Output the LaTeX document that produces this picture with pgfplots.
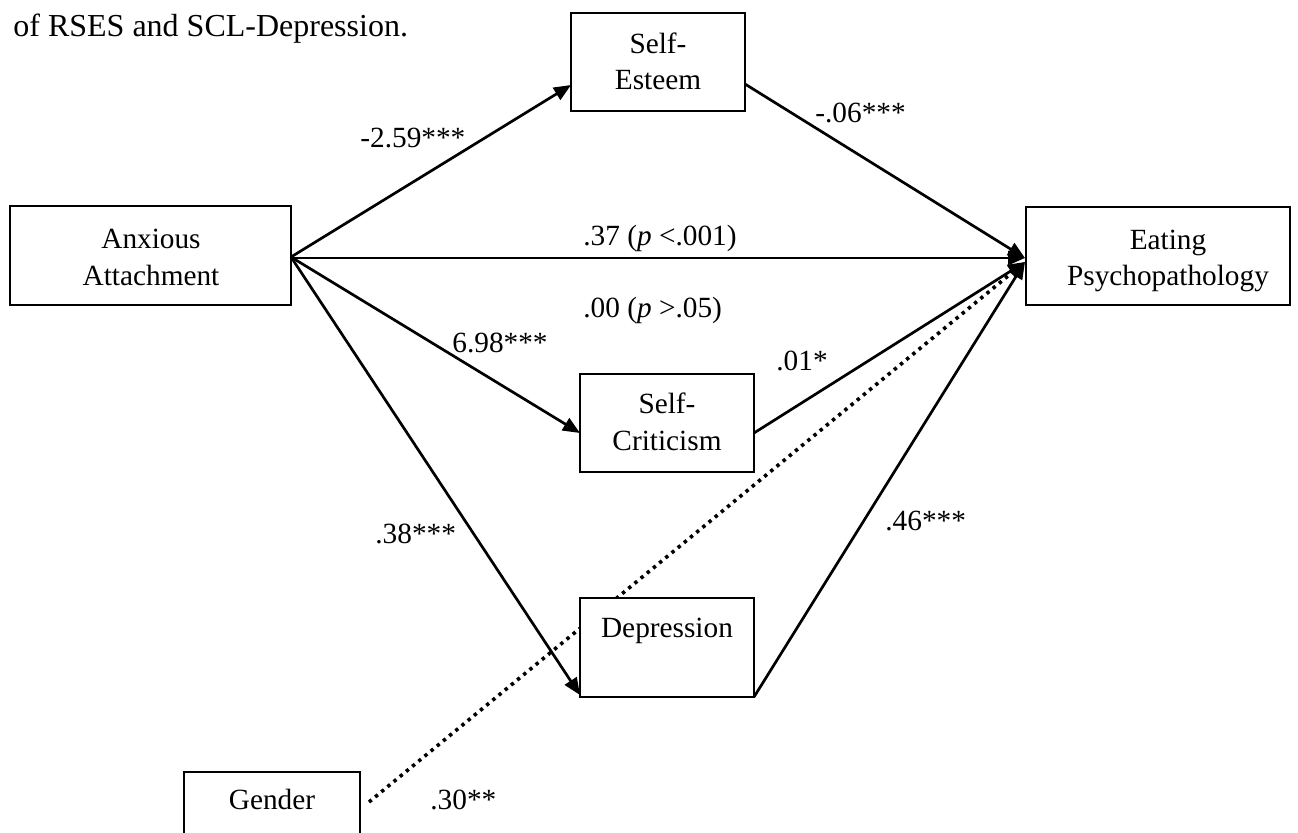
\documentclass[border=0pt]{standalone}
\usepackage{pgfplots}
\pgfplotsset{compat=1.18}
\usepackage{fontspec}
\setmainfont{Liberation Serif}
\usetikzlibrary{arrows.meta}
\newcommand\df{\fontsize{14.65pt}{17pt}\selectfont}
\newcommand\tf{\fontsize{16pt}{19pt}\selectfont}
\tikzset{t/.style={font=\df, inner sep=0pt, anchor=base}, w/.style={font=\df, inner sep=0pt, anchor=base west}}
\begin{document}
\begin{tikzpicture}
\begin{axis}[
  hide axis, scale only axis,
  width=649pt, height=416pt,
  xmin=0, xmax=1298, ymin=0, ymax=832, y dir=reverse,
  clip=true,
  arr/.style={black, line width=1.35pt, -{Triangle[length=8.5pt,width=7pt]}, line cap=butt},
  box/.style={black, line width=0.9pt, fill=white, line join=miter},
]
% paths
\addplot[arr] coordinates {(291,257) (571,85)};
\addplot[arr] coordinates {(291,257) (580,433)};
\addplot[arr] coordinates {(291,257) (580,695)};
\addplot[arr] coordinates {(291,258) (1025,258)};
\addplot[arr] coordinates {(745,84) (1025,258)};
\addplot[arr] coordinates {(754,433) (1025,262)};
\addplot[arr] coordinates {(754,697) (1025,262)};
\addplot[black, line width=1.8pt, dash pattern=on 1.7pt off 2.3pt, -{Triangle[length=7pt,width=6pt]}] coordinates {(369,802) (1025,262)};
% boxes
\addplot[box] coordinates {(571,13) (745,13) (745,111) (571,111)} --cycle;
\addplot[box] coordinates {(10,206) (291,206) (291,305) (10,305)} --cycle;
\addplot[box] coordinates {(1026,207) (1290,207) (1290,305) (1026,305)} --cycle;
\addplot[box] coordinates {(580,374) (754,374) (754,472) (580,472)} --cycle;
\addplot[box] coordinates {(580,598) (754,598) (754,697) (580,697)} --cycle;
\addplot[box] coordinates {(184,850) (184,772) (360,772) (360,850)};
% title
\node[anchor=base west, font=\tf, inner sep=0pt] at (axis cs:13,36) {of RSES and SCL-Depression.};
% box texts
\node[t] at (axis cs:658,53) {Self-};
\node[t] at (axis cs:658,89) {Esteem};
\node[t] at (axis cs:151,248) {Anxious};
\node[t] at (axis cs:151,285) {Attachment};
\node[t] at (axis cs:1168,249) {Eating};
\node[t] at (axis cs:1168,285) {Psychopathology};
\node[t] at (axis cs:667,413) {Self-};
\node[t] at (axis cs:667,450) {Criticism};
\node[t] at (axis cs:667,637) {Depression};
\node[t] at (axis cs:272,809) {Gender};
% coefficients
\node[w] at (axis cs:360,147) {-2.59***};
\node[w] at (axis cs:815,122) {-.06***};
\node[w] at (axis cs:583,245) {.37 (\textit{p} <.001)};
\node[w] at (axis cs:583,317) {.00 (\textit{p} >.05)};
\node[w] at (axis cs:452,352) {6.98***};
\node[w] at (axis cs:776,370) {.01*};
\node[w] at (axis cs:375,543) {.38***};
\node[w] at (axis cs:885,530) {.46***};
\node[w] at (axis cs:430,809) {.30**};
\coordinate (SW) at (axis cs:0,832);
\coordinate (NE) at (axis cs:1298,0);
\end{axis}
\pgfresetboundingbox
\useasboundingbox (SW) rectangle (NE);
\end{tikzpicture}
\end{document}
